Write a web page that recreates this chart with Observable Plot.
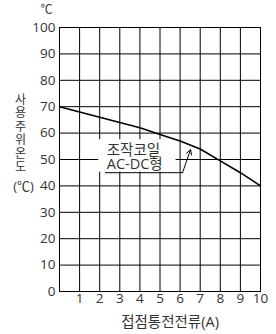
<!DOCTYPE html>
<html><head><meta charset="utf-8">
<script src="https://cdn.jsdelivr.net/npm/d3@7"></script>
<script src="https://cdn.jsdelivr.net/npm/@observablehq/plot@0.6"></script>
<style>body{margin:0;background:#fff}</style>
</head><body><div id="chart"></div>
<script>
const currentA = [0, 1, 2, 3, 4, 5, 6, 7, 8, 9, 10];
const tempC = [70, 68, 66, 64, 62, 59.5, 57, 54, 49.5, 45, 40];
const xTicks = [1, 2, 3, 4, 5, 6, 7, 8, 9, 10];
const yTicks = [0, 10, 20, 30, 40, 50, 60, 70, 80, 90, 100];
const yTitle = "사용주위온도";
const yUnit = "(℃)";
const topUnit = "℃";
const xTitle = "접점통전전류(A)";
const noteLines = ["조작코일", "AC-DC형"];
const noteLineY = [53.3, 48];
const noteX = 2.35;
const noteBox = {x1: 1.95, x2: 5.8, y1: 45.2, y2: 57.5};
const leaderX = [2.29, 6.12];
const leaderY = 45;
const arrowTip = {x: 6.52, y: 53.7};

const curve = currentA.map((a, i) => ({a, t: tempC[i]}));
const font = "'Open Sans', 'Noto Sans CJK KR', sans-serif";
const ink = "#333";

const chart = Plot.plot({
  width: 276, height: 334,
  marginLeft: 59, marginRight: 16, marginTop: 27, marginBottom: 43,
  style: {fontFamily: font, fontSize: "13.5px", color: ink, background: "#fff"},
  x: {domain: [0, 10]},
  y: {domain: [0, 100]},
  marks: [
    Plot.gridX(xTicks.slice(0, -1), {stroke: "#000", strokeOpacity: 1, strokeWidth: 1}),
    Plot.gridY(yTicks.slice(1, -1), {stroke: "#000", strokeOpacity: 1, strokeWidth: 1}),
    Plot.rect([noteBox], {x1: "x1", x2: "x2", y1: "y1", y2: "y2", fill: "white"}),
    Plot.text(noteLines, {x: () => noteX, y: (d, i) => noteLineY[i], text: d => d, textAnchor: "start", fontSize: 14.5, fill: ink}),
    Plot.line([{x: leaderX[0], y: leaderY}, {x: leaderX[1], y: leaderY}], {x: "x", y: "y", stroke: "#000", strokeWidth: 1}),
    Plot.arrow([arrowTip], {x1: () => leaderX[1], y1: () => leaderY, x2: "x", y2: "y", stroke: "#000", strokeWidth: 1, headLength: 8, bend: 0}),
    Plot.line(curve, {x: "a", y: "t", stroke: "#000", strokeWidth: 1.6}),
    Plot.frame({stroke: "#000", strokeWidth: 1}),
    Plot.axisY(yTicks, {tickSize: 0, tickPadding: 4, label: null, fontSize: 13.5, fill: ink}),
    Plot.axisX(xTicks, {tickSize: 0, tickPadding: 2, label: null, fontSize: 13.5, fill: ink}),
    Plot.text([yTitle.split("").join("\n")], {x: () => 0, y: () => 60, text: d => d, dx: -39, lineHeight: 1.12, fontSize: 12, fill: ink}),
    Plot.text([yUnit], {x: () => 0, y: () => 40, text: d => d, dx: -36, dy: 1, fontSize: 13, fill: ink}),
    Plot.text([topUnit], {x: () => 0, y: () => 100, text: d => d, dx: -13, dy: -17, fontSize: 12, fill: ink}),
    Plot.text([xTitle], {x: () => 5.5, y: () => 0, text: d => d, dy: 31, fontSize: 14.5, fill: ink})
  ]
});
document.getElementById("chart").appendChild(chart);
</script>
</body></html>
